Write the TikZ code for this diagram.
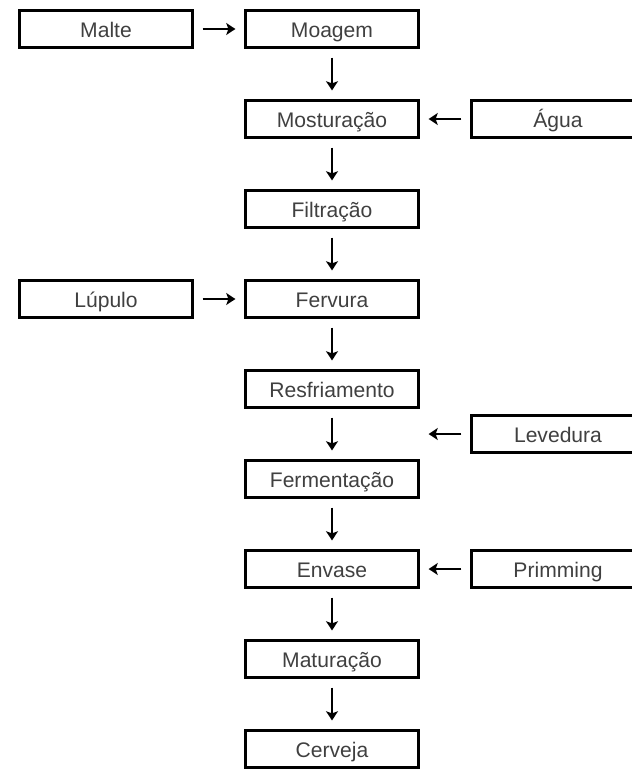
\documentclass[tikz,border=0pt]{standalone}
\usepackage{fontspec}
\setsansfont{Liberation Sans}
\usetikzlibrary{calc,arrows.meta,positioning}
\tikzset{
    every node/.style={font=\sffamily\fontsize{15}{17}\selectfont},
    box node/.style={draw,line width=1.8pt,outer sep=0pt,text=black!75,minimum width=4.33cm,minimum height=0.93cm,inner sep=0pt,text height=12pt,text depth=0pt}
}

\begin{document}
\begin{tikzpicture}[->,>={Stealth[length=6.5pt,width=8.5pt,inset=1.5pt]},line width=1.6pt,shorten >=0.25cm,shorten <=0.25cm,node distance=1.32cm]

        \clip (0,0) rectangle (15.8,-19.225);
        \node[box node] (1) at (8.3,-0.725) {Moagem};
        \node[box node] (2) [below =of 1]{Mosturação};
        \node[box node] (3) [below =of 2]{Filtração};
        \node[box node] (4) [below =of 3]{Fervura};
        \node[box node] (5) [below =of 4]{Resfriamento};
        \node[box node] (6) [below =of 5]{Fermentação};
        \node[box node] (7) [below =of 6]{Envase};
        \node[box node] (8) [below =of 7]{Maturação};
        \node[box node] (9) [below =of 8]{Cerveja};
        \node[box node] (10) [left =of 1]{Malte};
        \node[box node] (11) [right =of 2]{Água};
        \node[box node] (12) [left =of 4]{Lúpulo};
        \coordinate (c) at ($(5)!0.5!(6)$);
        \node[box node] (13) at (11 |- c){Levedura};
        \node[box node] (14) [right =of 7]{Primming};

        \draw (1) -- (2);
        \draw (2) -- (3);
        \draw (3) -- (4);
        \draw (4) -- (5);
        \draw (5) -- (6);
        \draw (6) -- (7);
        \draw (7) -- (8);
        \draw (8) -- (9);
        \draw (10) -- (1);
        \draw (11) -- (2);
        \draw (12) -- (4);
        \draw (13) -- (c -| 5.east);
        \draw (14) -- (7);
      \end{tikzpicture}
\end{document}
